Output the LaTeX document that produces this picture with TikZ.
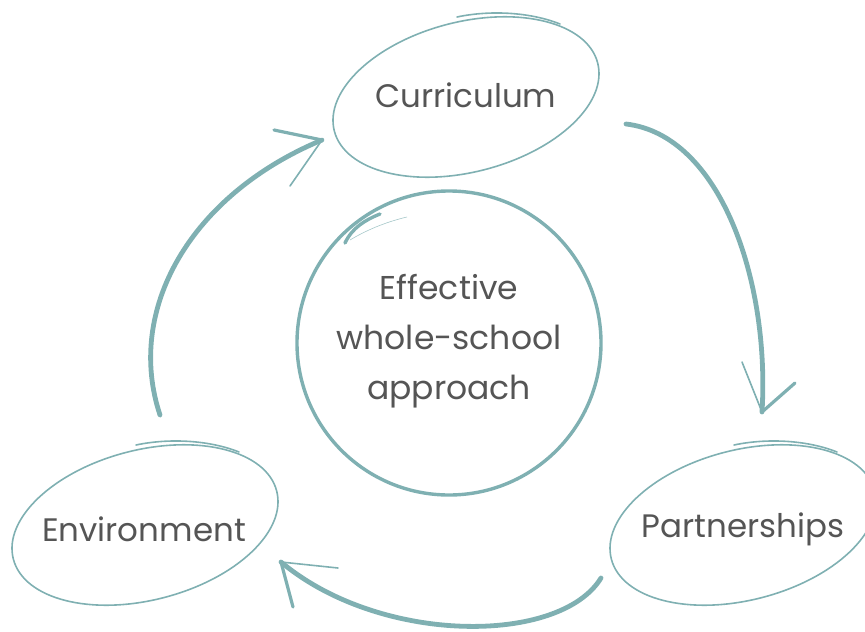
\documentclass[tikz,border=0pt]{standalone}
\usepackage{fontspec}
\setmainfont{Poppins}
\definecolor{teal1}{HTML}{7FB0B2}
\definecolor{txt}{HTML}{555555}
\begin{document}
\begin{tikzpicture}[x=1pt,y=-1pt,
  lbl/.style={text=txt,font=\fontsize{32.5}{40}\selectfont,align=center,inner sep=0pt},
  oval/.style={draw=teal1,line width=1.6pt},
  ring/.style={draw=teal1,line width=3.4pt},
  flow/.style={draw=teal1,line width=4.8pt,line cap=round},
  headthin/.style={draw=teal1,line width=1.6pt,line cap=round},
  headthick/.style={draw=teal1,line width=3.2pt,line cap=round}]
\useasboundingbox (0,0) rectangle (865,632);
% nodes
\node[lbl] (cur) at (466,95) {Curriculum};
\node[lbl] (par) at (743,529) {Partnerships};
\node[lbl] (env) at (144,529) {Environment};
\node[lbl,font=\fontsize{33}{50}\selectfont] (eff) at (449,341) {Effective\\whole-school\\approach};
% ellipses
\draw[oval] (466,97) ellipse [x radius=136pt, y radius=75pt, rotate=14.5];
\draw[oval,line cap=round] (457,17) .. controls (490,10) and (530,12) .. (560,24);
\draw[oval] (743,525) ellipse [x radius=136pt, y radius=75pt, rotate=14.5];
\draw[oval,line cap=round] (734,445) .. controls (767,438) and (807,440) .. (837,452);
\draw[oval] (145,525) ellipse [x radius=136pt, y radius=75pt, rotate=14.5];
\draw[oval,line cap=round] (136,445) .. controls (169,438) and (209,440) .. (239,452);
% circle
\draw[ring] (449,343) circle [radius=152pt];
\draw[ring,line cap=round] (345,243) .. controls (352,228) and (365,220) .. (380,214);
\draw[teal1,line width=0.6pt,opacity=0.7] (350,240) .. controls (370,228) and (390,221) .. (407,217);
% coordinates for arrows
\coordinate (a1s) at (626,124);
\coordinate (a1e) at (762,412);
\coordinate (a2s) at (601,578);
\coordinate (a2e) at (281,562);
\coordinate (a3s) at (160,415);
\coordinate (a3e) at (322,140);
\coordinate (h1a) at (742,362);
\coordinate (h1b) at (795,383);
\coordinate (h2a) at (338,568);
\coordinate (h2b) at (293,607);
\coordinate (h3a) at (274,130);
\coordinate (h3b) at (290,186);
% arrows
\draw[flow] (a1s) .. controls (720,135) and (770,280) .. (a1e);
\draw[headthin] (a1e) -- (h1a);
\draw[headthick] (a1e) -- (h1b);
\draw[flow] (a2s) .. controls (560,645) and (380,645) .. (a2e);
\draw[headthin] (a2e) -- (h2a);
\draw[headthick] (a2e) -- (h2b);
\draw[flow] (a3s) .. controls (125,310) and (190,195) .. (a3e);
\draw[headthick] (a3e) -- (h3a);
\draw[headthin] (a3e) -- (h3b);
\end{tikzpicture}
\end{document}
